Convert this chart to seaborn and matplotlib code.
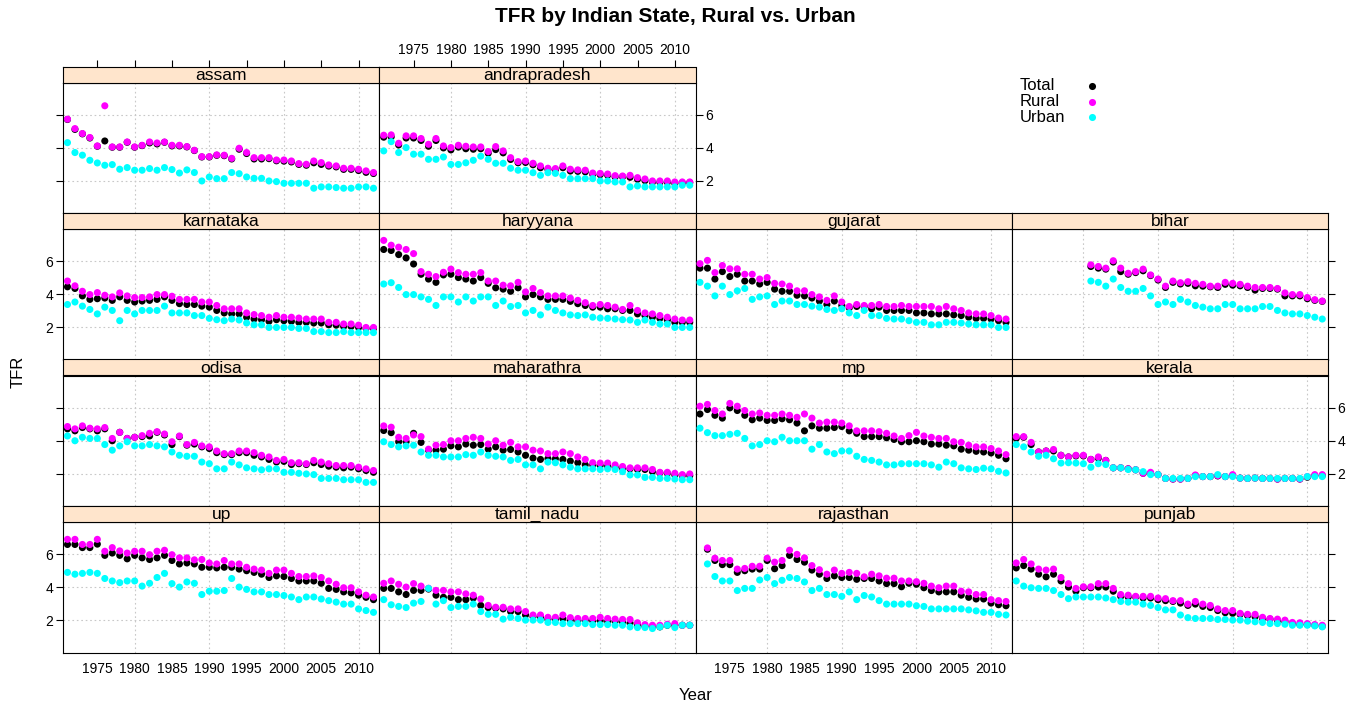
import matplotlib
matplotlib.use("Agg")
import matplotlib.pyplot as plt
import pandas as pd
import seaborn as sns

sns.set_style("white")
plt.rcParams["font.family"] = ["Liberation Sans", "DejaVu Sans"]
plt.rcParams["text.color"] = "black"
plt.rcParams["axes.labelcolor"] = "black"
plt.rcParams["xtick.color"] = "black"
plt.rcParams["ytick.color"] = "black"

# ---------------- data ----------------
YEARS = list(range(1971, 2013))
YEARS_BIHAR = list(range(1981, 2013))
YEARS_RAJASTHAN = list(range(1972, 2013))

assam_total = [5.72,5.12,4.85,4.60,4.10,4.42,4.04,4.04,4.34,4.04,4.14,4.30,4.24,4.34,4.12,4.12,4.06,3.84,3.45,3.45,3.55,3.53,3.33,3.92,3.66,3.33,3.33,3.35,3.22,3.20,3.15,3.00,2.95,3.10,3.00,2.90,2.85,2.70,2.70,2.63,2.52,2.45]
assam_rural = [5.74,5.17,4.87,4.63,4.12,6.55,4.06,4.06,4.36,4.06,4.16,4.36,4.30,4.36,4.16,4.16,4.08,3.86,3.47,3.47,3.58,3.56,3.37,3.98,3.72,3.41,3.41,3.41,3.27,3.27,3.21,3.05,3.01,3.21,3.11,2.97,2.91,2.77,2.77,2.71,2.61,2.51]
assam_urban = [4.32,3.72,3.56,3.25,3.09,2.95,2.99,2.71,2.81,2.65,2.65,2.75,2.65,2.81,2.69,2.48,2.67,2.51,2.00,2.24,2.14,2.14,2.51,2.44,2.24,2.16,2.16,2.00,1.96,1.86,1.86,1.86,1.86,1.56,1.64,1.64,1.60,1.56,1.56,1.64,1.64,1.56]

andrapradesh_total = [4.65,4.67,4.18,4.60,4.60,4.45,4.10,4.45,4.00,3.88,4.05,3.95,3.92,3.95,3.68,3.90,3.70,3.30,3.10,3.12,2.98,2.80,2.70,2.68,2.80,2.60,2.58,2.55,2.40,2.38,2.35,2.25,2.25,2.22,2.10,2.02,1.92,1.92,1.92,1.85,1.88,1.90]
andrapradesh_rural = [4.77,4.79,4.28,4.73,4.73,4.57,4.22,4.57,4.12,4.02,4.16,4.10,4.06,4.06,3.78,4.08,3.82,3.41,3.17,3.21,3.07,2.91,2.77,2.75,2.91,2.71,2.67,2.65,2.48,2.46,2.42,2.32,2.30,2.34,2.20,2.12,2.00,2.00,2.00,1.94,1.94,1.94]
andrapradesh_urban = [3.82,4.38,3.72,4.02,3.62,3.62,3.31,3.31,3.45,3.00,3.00,3.10,3.25,3.50,3.31,3.07,3.07,2.77,2.65,2.65,2.50,2.34,2.50,2.46,2.34,2.14,2.14,2.14,2.14,2.00,2.00,1.94,1.94,1.64,1.70,1.64,1.64,1.64,1.64,1.64,1.74,1.74]

karnataka_total = [4.46,4.36,3.91,3.70,3.74,3.78,3.64,3.85,3.64,3.54,3.60,3.64,3.70,3.85,3.64,3.44,3.39,3.39,3.29,3.23,3.03,2.88,2.82,2.82,2.62,2.51,2.47,2.37,2.47,2.41,2.37,2.31,2.31,2.27,2.27,2.16,2.14,2.06,2.06,2.00,1.94,1.94]
karnataka_rural = [4.81,4.52,4.19,3.99,4.11,3.95,3.85,4.09,3.91,3.81,3.81,3.85,3.99,3.99,3.89,3.70,3.70,3.70,3.54,3.54,3.33,3.13,3.13,3.13,2.88,2.78,2.72,2.62,2.72,2.62,2.62,2.57,2.51,2.51,2.51,2.31,2.31,2.21,2.21,2.14,2.00,2.00]
karnataka_urban = [3.39,3.54,3.29,3.09,2.82,3.23,3.03,2.41,3.03,2.82,3.03,3.03,3.03,3.29,2.88,2.88,2.88,2.72,2.72,2.55,2.47,2.41,2.51,2.45,2.27,2.16,2.16,2.00,2.00,2.00,2.00,1.94,1.94,1.75,1.75,1.69,1.69,1.75,1.69,1.69,1.69,1.69]

haryyana_total = [6.72,6.66,6.41,6.21,5.84,5.22,4.93,4.73,5.18,5.22,5.02,4.93,4.81,5.02,4.67,4.40,4.32,4.19,4.40,3.85,3.99,3.85,3.70,3.70,3.70,3.58,3.44,3.33,3.23,3.23,3.13,3.13,3.03,3.03,2.82,2.72,2.62,2.55,2.45,2.31,2.31,2.31]
haryyana_rural = [7.27,6.98,6.86,6.72,6.47,5.38,5.22,5.08,5.34,5.53,5.32,5.22,5.22,5.32,4.81,4.81,4.56,4.52,4.73,4.15,4.36,4.11,3.91,3.91,3.91,3.78,3.64,3.50,3.33,3.39,3.33,3.23,3.09,3.33,3.03,2.88,2.82,2.72,2.62,2.51,2.45,2.45]
haryyana_urban = [4.63,4.71,4.42,3.99,3.99,3.85,3.70,3.33,3.85,3.85,3.54,3.85,3.60,3.85,3.85,3.33,3.60,3.27,3.33,2.88,3.03,2.76,3.23,3.03,2.88,2.76,2.72,2.76,2.62,2.57,2.55,2.51,2.47,2.45,2.31,2.45,2.31,2.21,2.21,2.00,2.00,2.00]

gujarat_total = [5.59,5.59,4.93,5.38,5.08,5.22,4.81,4.81,4.63,4.73,4.32,4.19,4.19,3.95,3.91,3.78,3.60,3.39,3.60,3.33,3.19,3.27,3.27,3.13,3.23,3.03,3.03,3.03,3.03,2.88,2.88,2.82,2.82,2.82,2.76,2.72,2.62,2.55,2.55,2.51,2.41,2.31]
gujarat_rural = [5.86,6.06,5.32,5.75,5.55,5.55,5.22,5.22,4.93,5.02,4.67,4.63,4.50,4.22,4.22,3.99,3.85,3.64,3.91,3.54,3.27,3.39,3.33,3.33,3.39,3.27,3.27,3.33,3.27,3.27,3.27,3.27,3.13,3.27,3.13,3.03,2.88,2.82,2.82,2.72,2.57,2.51]
gujarat_urban = [4.73,4.50,3.91,4.50,3.99,4.22,4.36,3.70,3.85,3.91,3.39,3.60,3.60,3.39,3.39,3.29,3.23,3.09,3.03,3.13,2.88,2.72,3.03,2.72,2.72,2.55,2.51,2.51,2.41,2.31,2.31,2.16,2.16,2.31,2.31,2.27,2.21,2.16,2.16,2.16,2.00,2.00]

bihar_total = [5.69,5.59,5.53,5.96,5.38,5.22,5.32,5.43,5.14,4.87,4.42,4.73,4.63,4.67,4.52,4.50,4.46,4.42,4.61,4.56,4.52,4.42,4.26,4.36,4.36,4.32,3.91,3.91,3.91,3.74,3.64,3.58]
bihar_rural = [5.79,5.69,5.59,6.04,5.59,5.28,5.38,5.53,5.18,4.93,4.50,4.81,4.71,4.77,4.67,4.61,4.50,4.50,4.73,4.67,4.61,4.50,4.42,4.42,4.42,4.36,4.09,3.99,3.99,3.81,3.68,3.60]
bihar_urban = [4.81,4.73,4.50,4.93,4.42,4.19,4.19,4.36,3.91,3.39,3.54,3.39,3.70,3.54,3.33,3.23,3.13,3.13,3.39,3.39,3.13,3.13,3.13,3.27,3.27,3.03,2.88,2.82,2.82,2.72,2.62,2.51]

odisa_total = [4.73,4.61,4.81,4.73,4.61,4.73,4.01,4.52,4.15,4.22,4.26,4.30,4.52,4.36,3.78,4.26,3.74,3.81,3.64,3.54,3.29,3.17,3.17,3.29,3.29,3.13,3.03,2.88,2.72,2.76,2.57,2.62,2.57,2.68,2.57,2.47,2.41,2.37,2.41,2.31,2.21,2.10]
odisa_rural = [4.87,4.73,4.91,4.77,4.73,4.81,4.15,4.52,4.15,4.22,4.32,4.46,4.56,4.42,3.95,4.30,3.78,3.91,3.70,3.64,3.39,3.23,3.23,3.39,3.39,3.29,3.13,3.03,2.82,2.88,2.68,2.68,2.62,2.82,2.72,2.62,2.51,2.51,2.51,2.41,2.31,2.21]
odisa_urban = [4.30,4.01,4.22,4.15,4.15,3.78,3.44,3.70,3.95,3.70,3.70,3.78,3.70,3.64,3.33,3.13,3.07,3.07,2.72,2.62,2.31,2.31,2.72,2.55,2.37,2.31,2.25,2.31,2.31,2.10,2.10,2.04,2.00,1.96,1.73,1.73,1.73,1.65,1.65,1.65,1.49,1.49]

maharathra_total = [4.63,4.50,3.95,3.95,4.46,3.91,3.44,3.44,3.50,3.70,3.64,3.81,3.74,3.78,3.50,3.64,3.44,3.48,3.33,3.13,2.96,2.88,2.92,2.92,2.88,2.78,2.68,2.55,2.55,2.51,2.47,2.41,2.35,2.31,2.27,2.27,2.14,2.06,2.04,1.94,1.90,1.90]
maharathra_rural = [4.91,4.83,4.22,4.15,4.36,4.26,3.50,3.74,3.78,4.01,4.01,4.15,4.22,4.15,3.81,4.01,3.74,3.91,3.64,3.64,3.44,3.39,3.23,3.23,3.33,3.23,3.03,2.88,2.68,2.66,2.66,2.55,2.45,2.37,2.37,2.37,2.27,2.10,2.10,2.04,1.96,2.00]
maharathra_urban = [3.95,3.78,3.64,3.70,3.74,3.33,3.13,3.13,3.03,3.03,3.03,3.17,3.13,3.33,3.13,3.07,3.03,2.82,2.88,2.55,2.55,2.31,2.72,2.68,2.55,2.41,2.31,2.31,2.31,2.27,2.31,2.27,2.14,1.94,1.94,1.79,1.79,1.73,1.73,1.69,1.65,1.65]

mp_total = [5.63,5.90,5.55,5.38,6.00,5.84,5.55,5.28,5.38,5.24,5.24,5.34,5.28,5.08,4.61,4.91,4.77,4.77,4.81,4.87,4.61,4.46,4.26,4.26,4.26,4.19,4.09,3.95,3.95,4.01,3.95,3.81,3.81,3.74,3.70,3.50,3.44,3.37,3.33,3.27,3.13,2.92]
mp_rural = [6.10,6.21,5.84,5.63,6.27,6.10,5.84,5.63,5.69,5.55,5.55,5.63,5.55,5.43,5.63,5.38,5.08,5.14,5.14,5.08,4.91,4.61,4.61,4.61,4.56,4.46,4.30,4.15,4.32,4.52,4.30,4.22,4.15,4.15,3.95,3.91,3.74,3.64,3.64,3.54,3.39,3.17]
mp_urban = [4.77,4.50,4.32,4.32,4.40,4.46,4.15,3.70,3.78,4.01,3.95,4.22,4.01,4.01,4.01,3.50,3.78,3.33,3.23,3.39,3.39,3.07,2.88,2.82,2.72,2.55,2.55,2.62,2.62,2.62,2.62,2.55,2.41,2.72,2.62,2.37,2.31,2.27,2.35,2.31,2.16,2.06]

kerala_total = [4.15,4.22,3.78,3.33,3.39,3.39,3.13,3.03,3.09,3.09,2.88,2.96,2.82,2.37,2.37,2.31,2.25,2.04,2.04,1.96,1.73,1.69,1.69,1.73,1.90,1.84,1.84,1.88,1.84,1.90,1.75,1.73,1.75,1.73,1.73,1.69,1.73,1.73,1.69,1.80,1.90,1.90]
kerala_rural = [4.26,4.26,3.91,3.33,3.39,3.48,3.13,3.03,3.13,3.13,2.88,3.03,2.82,2.37,2.37,2.31,2.25,2.04,2.10,1.96,1.73,1.69,1.69,1.73,1.94,1.84,1.84,1.90,1.84,1.96,1.75,1.73,1.75,1.73,1.73,1.69,1.73,1.73,1.69,1.84,1.96,1.96]
kerala_urban = [3.78,3.64,3.33,3.07,3.13,2.92,2.66,2.68,2.66,2.62,2.41,2.62,2.57,2.37,2.37,2.27,2.25,2.14,1.96,1.96,1.73,1.73,1.73,1.73,1.84,1.84,1.84,1.96,1.84,1.84,1.75,1.73,1.75,1.73,1.73,1.73,1.73,1.73,1.73,1.84,1.84,1.84]

up_total = [6.60,6.60,6.41,6.41,6.62,5.94,6.08,5.94,5.73,5.94,5.79,5.69,5.79,5.94,5.63,5.42,5.48,5.42,5.22,5.22,5.18,5.22,5.22,5.11,5.01,4.91,4.80,4.60,4.70,4.66,4.54,4.39,4.39,4.39,4.25,3.94,3.88,3.73,3.67,3.53,3.40,3.26]
up_rural = [6.91,6.91,6.60,6.60,6.91,6.19,6.41,6.21,6.08,6.19,6.19,5.98,6.19,6.25,5.98,5.79,5.79,5.67,5.69,5.48,5.42,5.63,5.42,5.42,5.22,5.11,5.05,4.85,5.05,5.05,4.85,4.66,4.66,4.70,4.60,4.39,4.19,3.98,3.98,3.73,3.53,3.42]
up_urban = [4.91,4.80,4.85,4.91,4.85,4.54,4.39,4.29,4.39,4.39,4.08,4.25,4.60,4.85,4.23,4.02,4.33,4.25,3.57,3.77,3.77,3.81,4.54,4.02,3.88,3.73,3.73,3.57,3.57,3.51,3.42,3.26,3.42,3.42,3.30,3.20,3.11,2.99,2.99,2.70,2.60,2.49]

tamil_nadu_total = [3.94,3.94,3.73,3.57,3.82,3.82,3.90,3.53,3.40,3.40,3.26,3.26,3.36,2.91,2.78,2.74,2.70,2.54,2.54,2.33,2.23,2.19,2.08,2.08,2.12,2.02,1.98,2.02,1.98,1.98,1.94,1.94,1.90,1.84,1.73,1.65,1.61,1.61,1.71,1.71,1.71,1.71]
tamil_nadu_rural = [4.25,4.39,4.19,4.02,4.23,4.08,3.95,3.82,3.82,3.73,3.73,3.61,3.53,3.30,2.91,2.80,2.80,2.70,2.70,2.54,2.33,2.33,2.19,2.19,2.33,2.17,2.12,2.12,2.12,2.19,2.12,2.08,2.06,2.06,1.86,1.75,1.71,1.71,1.77,1.81,1.71,1.71]
tamil_nadu_urban = [3.26,2.95,2.85,2.78,3.05,3.15,3.94,2.99,3.20,2.78,2.85,2.85,2.99,2.54,2.37,2.37,2.08,2.19,2.12,2.02,2.02,2.02,1.88,1.88,1.81,1.81,1.81,1.81,1.75,1.75,1.75,1.71,1.71,1.61,1.57,1.57,1.51,1.61,1.71,1.57,1.71,1.71]

rajasthan_total = [6.31,5.63,5.38,5.38,4.91,5.01,5.11,5.11,5.63,5.13,5.32,5.94,5.69,5.53,5.05,4.80,4.54,4.70,4.60,4.60,4.49,4.54,4.54,4.39,4.23,4.23,4.04,4.25,4.19,3.98,3.81,3.73,3.73,3.73,3.53,3.40,3.30,3.30,3.05,2.95,2.89]
rajasthan_rural = [6.39,5.77,5.63,5.63,5.11,5.15,5.28,5.28,5.77,5.53,5.63,6.25,6.00,5.79,5.32,5.07,4.80,5.05,4.85,4.91,4.85,4.64,4.80,4.70,4.56,4.56,4.39,4.39,4.35,4.25,4.08,3.98,4.08,4.08,3.77,3.73,3.57,3.57,3.26,3.20,3.15]
rajasthan_urban = [5.42,4.66,4.39,4.39,3.81,3.94,3.94,4.45,4.60,4.23,4.43,4.60,4.54,4.33,3.81,3.94,3.57,3.57,3.46,3.73,3.26,3.51,3.42,3.20,2.99,2.99,2.99,2.99,2.89,2.85,2.70,2.70,2.70,2.70,2.70,2.64,2.58,2.49,2.49,2.37,2.33]

punjab_total = [5.18,5.32,5.11,4.80,4.64,4.80,4.39,4.02,3.77,3.98,3.98,4.02,4.02,3.77,3.46,3.42,3.42,3.36,3.36,3.26,3.20,3.15,3.05,2.91,2.99,2.85,2.78,2.60,2.47,2.43,2.37,2.29,2.23,2.12,2.08,1.98,1.92,1.81,1.75,1.75,1.71,1.65]
punjab_rural = [5.48,5.69,5.42,5.11,5.05,5.11,4.60,4.23,3.94,4.04,4.04,4.23,4.23,3.94,3.57,3.53,3.46,3.46,3.46,3.36,3.32,3.20,3.20,2.99,3.15,2.99,2.91,2.70,2.60,2.60,2.43,2.37,2.37,2.19,2.12,2.08,2.02,1.88,1.86,1.81,1.75,1.71]
punjab_urban = [4.39,4.08,3.98,3.94,3.94,3.81,3.57,3.32,3.42,3.42,3.42,3.42,3.36,3.26,3.15,3.11,3.11,2.99,2.91,2.78,2.64,2.64,2.33,2.17,2.12,2.12,2.12,2.06,2.06,2.02,2.02,1.96,1.92,1.88,1.81,1.81,1.77,1.71,1.71,1.71,1.67,1.61]

SERIES = ["Total", "Rural", "Urban"]
COLORS = {"Total": "#000000", "Rural": "#FF00FF", "Urban": "#00FFFF"}

STATE_DATA = {
    "assam": (YEARS, assam_total, assam_rural, assam_urban),
    "andrapradesh": (YEARS, andrapradesh_total, andrapradesh_rural, andrapradesh_urban),
    "karnataka": (YEARS, karnataka_total, karnataka_rural, karnataka_urban),
    "haryyana": (YEARS, haryyana_total, haryyana_rural, haryyana_urban),
    "gujarat": (YEARS, gujarat_total, gujarat_rural, gujarat_urban),
    "bihar": (YEARS_BIHAR, bihar_total, bihar_rural, bihar_urban),
    "odisa": (YEARS, odisa_total, odisa_rural, odisa_urban),
    "maharathra": (YEARS, maharathra_total, maharathra_rural, maharathra_urban),
    "mp": (YEARS, mp_total, mp_rural, mp_urban),
    "kerala": (YEARS, kerala_total, kerala_rural, kerala_urban),
    "up": (YEARS, up_total, up_rural, up_urban),
    "tamil_nadu": (YEARS, tamil_nadu_total, tamil_nadu_rural, tamil_nadu_urban),
    "rajasthan": (YEARS_RAJASTHAN, rajasthan_total, rajasthan_rural, rajasthan_urban),
    "punjab": (YEARS, punjab_total, punjab_rural, punjab_urban),
}

LAYOUT = [
    ["assam", "andrapradesh", None, None],
    ["karnataka", "haryyana", "gujarat", "bihar"],
    ["odisa", "maharathra", "mp", "kerala"],
    ["up", "tamil_nadu", "rajasthan", "punjab"],
]

rows = []
for state, (yrs, tot, rur, urb) in STATE_DATA.items():
    for name, vals in zip(SERIES, (tot, rur, urb)):
        for y, v in zip(yrs, vals):
            rows.append({"State": state, "Type": name, "Year": y, "TFR": v})
df = pd.DataFrame(rows)

# ---------------- layout ----------------
W, H = 1371, 708
fig = plt.figure(figsize=(W / 100, H / 100), dpi=100)

COL_X = [63, 379.25, 695.5, 1011.75, 1328]
ROW_TOP = 66.5
ROW_UNIT = 146.5
STRIP_H = 16
PANEL_H = 130.5
XLIM = (1970.4, 2012.77)
YLIM = (0.06, 7.96)
XTICKS = list(range(1975, 2011, 5))
YTICKS = [2, 4, 6]
STRIP_COLOR = "#FFE5CC"
GRID_COLOR = "#C8C8C8"


def frac_box(x0, x1, ytop, ybot):
    return [x0 / W, 1 - ybot / H, (x1 - x0) / W, (ybot - ytop) / H]


def style_spines(ax):
    for s in ax.spines.values():
        s.set_color("black")
        s.set_linewidth(0.8)


last_col_in_row = {r: max(c for c, s in enumerate(LAYOUT[r]) if s) for r in range(4)}

for r, row in enumerate(LAYOUT):
    strip_top = ROW_TOP + r * ROW_UNIT
    panel_top = strip_top + STRIP_H
    panel_bot = panel_top + PANEL_H
    for c, state in enumerate(row):
        if state is None:
            continue
        x0, x1 = COL_X[c], COL_X[c + 1]
        ax = fig.add_axes(frac_box(x0, x1, panel_top, panel_bot))
        sub = df[df["State"] == state]
        for gx in (1980, 1990, 2000, 2010):
            ax.axvline(gx, color=GRID_COLOR, lw=0.8, ls=(0, (1.5, 2.5)), zorder=0)
        for gy in YTICKS:
            ax.axhline(gy, color=GRID_COLOR, lw=0.8, ls=(0, (1.5, 2.5)), zorder=0)
        sns.scatterplot(data=sub, x="Year", y="TFR", hue="Type",
                        hue_order=SERIES, palette=COLORS, s=26,
                        linewidth=0, legend=False, ax=ax, zorder=3)
        ax.set_xlim(*XLIM)
        ax.set_ylim(*YLIM)
        ax.set_xlabel("")
        ax.set_ylabel("")
        style_spines(ax)
        ax.tick_params(direction="out", length=5, width=0.8, labelsize=10,
                       colors="black", pad=2)

        if r == 3:
            ax.set_xticks(XTICKS)
            if c in (0, 2):
                ax.set_xticklabels([str(t) for t in XTICKS])
            else:
                ax.set_xticklabels([])
        else:
            ax.set_xticks([])

        left = c == 0
        right = c == last_col_in_row[r]
        if left or right:
            ax.set_yticks(YTICKS)
            ax.tick_params(axis="y", left=left, right=right,
                           labelleft=left and r in (1, 3),
                           labelright=right and r in (0, 2))
        else:
            ax.set_yticks([])

        sax = fig.add_axes(frac_box(x0, x1, strip_top, panel_top))
        sax.set_facecolor(STRIP_COLOR)
        style_spines(sax)
        sax.set_xlim(*XLIM)
        sax.set_yticks([])
        sax.text(0.5, 0.45, state, transform=sax.transAxes, ha="center",
                 va="center", fontsize=12.5, color="black")
        if r == 0:
            sax.xaxis.set_ticks_position("top")
            sax.set_xticks(XTICKS)
            sax.tick_params(axis="x", direction="out", length=5, width=0.8,
                            labelsize=10, pad=2, labeltop=(c == 1),
                            labelbottom=False, bottom=False, top=True,
                            colors="black")
        else:
            sax.set_xticks([])

# titles and labels
fig.text(675 / W, 1 - 16 / H, "TFR by Indian State, Rural vs. Urban",
         ha="center", va="center", fontsize=15, fontweight="bold",
         color="black")
fig.text(695.5 / W, 1 - 695 / H, "Year", ha="center", va="center",
         fontsize=12, color="black")
fig.text(18 / W, 1 - 372 / H, "TFR", ha="center", va="center",
         rotation=90, fontsize=12, color="black")

# key (lattice-style: labels left-aligned, points in a column to the right)
kax = fig.add_axes(frac_box(1015, 1100, 78, 125))
kax.set_axis_off()
kax.set_xlim(0, 1)
kax.set_ylim(len(SERIES) - 0.5, -0.5)
for i, name in enumerate(SERIES):
    kax.text(0.06, i, name, ha="left", va="center", fontsize=12,
             color="black")
    kax.scatter([0.905], [i], s=26, color=COLORS[name], linewidths=0)

fig.savefig("out.png", dpi=100)
